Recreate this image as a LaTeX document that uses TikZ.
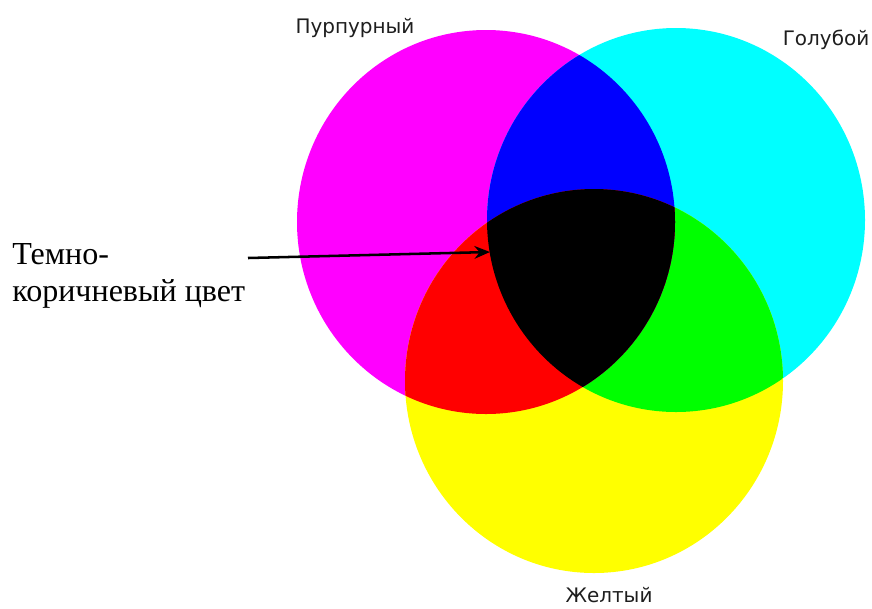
\documentclass[tikz,border=0pt]{standalone}
\usepackage{fontspec}
\setmainfont{Liberation Serif}
\newfontfamily\lblfont{DejaVu Sans}
\usetikzlibrary{arrows.meta, positioning}
\definecolor{inkMagenta}{HTML}{FF00FF}
\definecolor{inkCyan}{HTML}{00FFFF}
\definecolor{inkYellow}{HTML}{FFFF00}
\definecolor{inkBlue}{HTML}{0000FF}
\definecolor{inkRed}{HTML}{FF0000}
\definecolor{inkGreen}{HTML}{00FF00}
\definecolor{textGray}{HTML}{1E1E1E}

\begin{document}
\begin{tikzpicture}[
    x=0.025cm, y=-0.025cm,
    every circle/.style={x radius=189, y radius=192},
    lbl/.style={font=\lblfont\fontsize{14.2}{16}\selectfont\color{textGray},
                anchor=base, inner sep=0pt},
    note/.style={font=\fontsize{22.8}{26.3}\selectfont, align=left,
                 anchor=north west, inner sep=0pt},
  ]
    \useasboundingbox (0,0) rectangle (872,608);

    % centres
    \coordinate (pur) at (486,222);
    \coordinate (gol) at (676,220);
    \coordinate (zhe) at (594,381);

    % base circles
    \fill[inkMagenta] (pur) circle;
    \fill[inkCyan] (gol) circle;
    \fill[inkYellow] (zhe) circle;

    % cyan + yellow
    \begin{scope}
      \clip (gol) circle;
      \fill[inkGreen] (zhe) circle;
    \end{scope}

    % magenta + others
    \begin{scope}
      \clip (pur) circle;
      \fill[inkBlue] (gol) circle;
      \fill[inkRed] (zhe) circle;
      \clip (gol) circle;
      \fill[black] (zhe) circle;
    \end{scope}

    % labels
    \node[lbl] (lpur) at (355,33) {Пурпурный};
    \node[lbl] (lgol) at (826,45) {Голубой};
    \node[lbl] (lzhe) at (609,602) {Желтый};

    % note with arrow
    \node[note] (dark) at (12,243) {Темно-\\коричневый цвет};
    \coordinate (tail) at (248,258);
    \coordinate (core) at (490,252);
    \draw[line width=1.8pt, -{Stealth[length=11pt, width=9pt]}] (tail) -- (core);
  \end{tikzpicture}
\end{document}
